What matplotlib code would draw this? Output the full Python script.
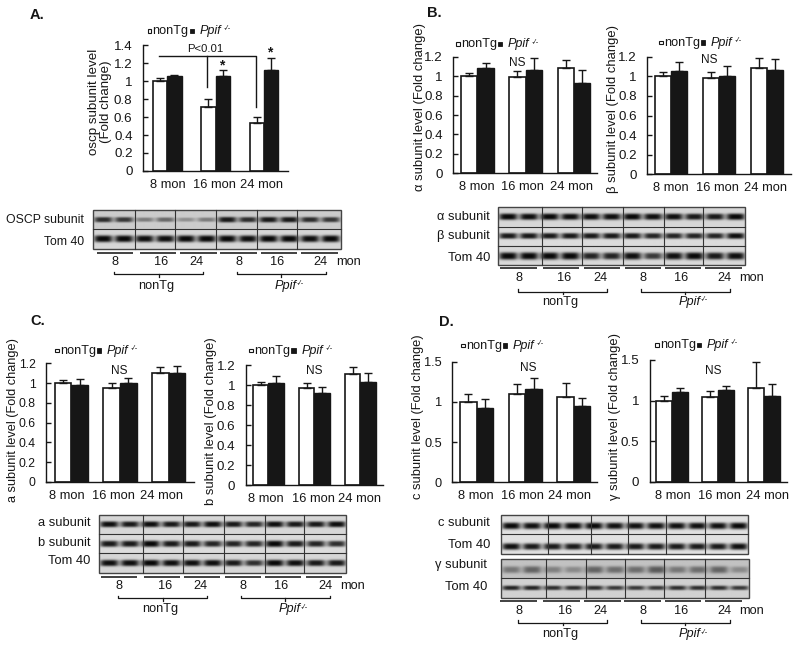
import numpy as np
import matplotlib
matplotlib.use("Agg")
import matplotlib.pyplot as plt
from matplotlib.patches import Rectangle

plt.rcParams['font.family'] = ['Liberation Sans', 'DejaVu Sans']

months = ['8 mon', '16 mon', '24 mon']
ages = ['8', '16', '24', '8', '16', '24']

# bar heights and upper error
oscp_wt = [1.0, 0.71, 0.53]
oscp_ko = [1.05, 1.05, 1.12]
oscp_wt_err = [0.03, 0.09, 0.07]
oscp_ko_err = [0.02, 0.07, 0.14]

alpha_wt = [1.0, 0.99, 1.08]
alpha_ko = [1.085, 1.06, 0.93]
alpha_wt_err = [0.03, 0.06, 0.09]
alpha_ko_err = [0.055, 0.13, 0.13]

beta_wt = [1.0, 0.98, 1.08]
beta_ko = [1.05, 1.0, 1.06]
beta_wt_err = [0.04, 0.06, 0.11]
beta_ko_err = [0.10, 0.11, 0.12]

a_wt = [1.0, 0.95, 1.10]
a_ko = [0.98, 1.0, 1.10]
a_wt_err = [0.03, 0.05, 0.06]
a_ko_err = [0.06, 0.05, 0.07]

b_wt = [1.0, 0.97, 1.11]
b_ko = [1.02, 0.92, 1.03]
b_wt_err = [0.03, 0.05, 0.07]
b_ko_err = [0.07, 0.06, 0.09]

c_wt = [1.0, 1.10, 1.06]
c_ko = [0.92, 1.16, 0.95]
c_wt_err = [0.10, 0.12, 0.17]
c_ko_err = [0.11, 0.14, 0.10]

gamma_wt = [1.0, 1.04, 1.16]
gamma_ko = [1.11, 1.13, 1.06]
gamma_wt_err = [0.06, 0.08, 0.31]
gamma_ko_err = [0.04, 0.05, 0.15]

# band darkness per lane on the blots
oscp_row = [.8, .75, .4, .5, .3, .4, .9, .8, .9, .9, .8, .75]
tom_a_row = [.98, .98, .95, .95, .98, .98, .98, .95, .98, .98, .95, .98]
alpha_row = [.98, .95, .98, .95, .95, .95, .98, .95, .95, .9, .9, .98]
beta_row = [.9, .9, .9, .9, .9, .9, .9, .85, .85, .85, .85, .95]
tom_b_row = [.98, .98, .98, .98, .85, .85, .95, .75, .95, .98, .9, .95]
a_row = [.95, .9, .95, .9, .9, .95, .9, .85, .95, .9, .9, .95]
b_row = [.9, .9, .98, .9, .9, .85, .85, .85, .98, .9, .85, .8]
tom_c_row = [.95, .95, .98, .95, .95, .95, .9, .8, .98, .95, .9, .9]
c_row = [.98, .95, .98, .98, .98, .95, .95, .95, .95, .95, .95, .98]
tom_d1_row = [.95, .9, .9, .9, .9, .9, .9, .9, .9, .9, .9, .95]
gamma_row = [.4, .5, .35, .3, .5, .45, .45, .55, .4, .45, .5, .3]
tom_d2_row = [.85, .85, .8, .8, .8, .75, .75, .75, .8, .8, .8, .75]

W, H = 800, 648
fig = plt.figure(figsize=(W / 100, H / 100), dpi=100)
ink = '#161616'


def px_axes(left, top, right, bottom, **kw):
    return fig.add_axes([left / W, 1 - bottom / H, (right - left) / W, (bottom - top) / H], **kw)


ov = px_axes(0, 0, W, H, zorder=5)
ov.set_xlim(0, W)
ov.set_ylim(H, 0)
ov.axis('off')
ov.patch.set_alpha(0)


def bar_panel(rect, ymax, yticks, ylabels, c0, sp, bw, wt, ko, wt_err, ko_err, tick_x,
              ylab, ylab_xy, lsize=9.4, tsize=9.6):
    left, top, right, bottom = rect
    ax = px_axes(left, top, right, bottom)
    ax.set_xlim((left - c0) / sp, (right - c0) / sp)
    ax.set_ylim(0, ymax)
    x = np.arange(3)
    w = bw / sp
    ax.bar(x - w / 2, wt, w, color='white', edgecolor=ink, linewidth=1.2)
    ax.bar(x + w / 2, ko, w, color=ink, edgecolor=ink, linewidth=1.0)
    ax.errorbar(x - w / 2, wt, yerr=[np.zeros(3), wt_err], fmt='none', ecolor=ink,
                elinewidth=1, capsize=2.6, capthick=1, clip_on=False)
    ax.errorbar(x + w / 2, ko, yerr=[np.zeros(3), ko_err], fmt='none', ecolor=ink,
                elinewidth=1, capsize=2.6, capthick=1, clip_on=False)
    for s in ['top', 'right']:
        ax.spines[s].set_visible(False)
    for s in ['left', 'bottom']:
        ax.spines[s].set_color(ink)
        ax.spines[s].set_linewidth(1)
    ax.set_yticks(yticks)
    ax.set_yticklabels(ylabels, fontsize=tsize, color=ink)
    ax.tick_params(axis='y', direction='in', length=3.5, width=1, pad=7.5, color=ink)
    ax.set_xticks((np.array(tick_x) - c0) / sp)
    ax.set_xticklabels(months, fontsize=9.3, color=ink)
    ax.tick_params(axis='x', length=0, pad=5.5)
    ov.text(ylab_xy[0], ylab_xy[1], ylab, rotation=90, ha='center', va='center',
            fontsize=lsize, color=ink, linespacing=1.1)
    return ax


def legend(x0, y):
    ov.add_patch(Rectangle((x0, y - 2), 3.6, 3.6, facecolor='white', edgecolor=ink, linewidth=0.8))
    ov.text(x0 + 4.8, y, 'nonTg', fontsize=9.1, va='center', ha='left', color=ink)
    ov.add_patch(Rectangle((x0 + 42, y - 2.4), 4.4, 4.4, facecolor=ink, edgecolor=ink, linewidth=0.6))
    ov.text(x0 + 52, y, 'Ppif', fontsize=9.1, style='italic', va='center', ha='left', color=ink)
    ov.text(x0 + 76, y - 2, '-/-', fontsize=5.5, style='italic', va='center', ha='left', color=ink)


def gel_image(nx, ny, rows, y_edges):
    img = np.full((ny, nx), 0.84)
    xx = (np.arange(nx) + 0.5)
    yy = (np.arange(ny) + 0.5)
    for i, r in enumerate(rows):
        darkness, pos, bg, wy = r
        y0, y1 = y_edges[i], y_edges[i + 1]
        in_row = (yy >= y0) & (yy < y1)
        cy = y0 + pos * (y1 - y0)
        img[in_row, :] = bg
        for k, d in enumerate(darkness):
            cx = (k + 0.5) * nx / 12
            bx = np.exp(-np.abs((xx - cx) / (nx / 27)) ** 4)
            h = wy * (0.65 + 0.45 * d)
            by = np.exp(-np.abs((yy - cy) / h) ** 3)
            img[in_row, :] -= (np.outer(by, bx) * bg * d * 0.98)[in_row, :]
    return np.clip(img, 0, 1)


def blot(x0, y0, x1, y1, dividers, seps, rows, names, name_x, nsize=9.3):
    ax = px_axes(x0, y0, x1, y1)
    edges = [0] + [d - y0 for d in dividers] + [y1 - y0]
    img = gel_image(int(x1 - x0), int(round(y1 - y0)), rows, edges)
    ax.imshow(img, cmap='gray', vmin=0, vmax=1, aspect='auto', interpolation='bilinear')
    ax.axis('off')
    ov.add_patch(Rectangle((x0, y0), x1 - x0, y1 - y0, fill=False, edgecolor='#444444', linewidth=1))
    for d in dividers:
        ov.plot([x0, x1], [d, d], color='#333333', lw=0.8)
    for s in seps:
        ov.plot([s, s], [y0, y1], color='#333333', lw=0.8)
    for name, ny in names:
        ov.text(name_x, ny, name, ha='right', va='center', fontsize=nsize, color=ink)


def lane_key(ox, oy, bar_y, seg, label_xs, label_y, mon_x, br_y, names_y):
    # underlines, ages, brackets, group names; numbers here are 3x crop coords
    for a, b in seg:
        ov.plot([ox + a / 3, ox + b / 3], [oy + bar_y / 3] * 2, color='#333333', lw=1.3, solid_capstyle='butt')
    for t, lx in zip(ages, label_xs):
        ov.text(ox + lx / 3, oy + label_y / 3, t, ha='center', va='center', fontsize=9.2, color=ink)
    ov.text(ox + mon_x / 3, oy + label_y / 3, 'mon', ha='center', va='center', fontsize=9.2, color=ink)
    for a, b in [(355, 621), (722, 990)]:
        d = label_xs[0] - 357
        aa, bb = ox + (a + d) / 3, ox + (b + d) / 3
        yy = oy + br_y / 3
        ov.plot([aa, aa, bb, bb], [yy - 2.5, yy, yy, yy - 2.5], color=ink, lw=0.9)
        ov.plot([(aa + bb) / 2] * 2, [yy, yy + 2.5], color=ink, lw=0.9)
    d = label_xs[0] - 357
    ov.text(ox + (480 + d) / 3, oy + names_y / 3, 'nonTg', ha='center', va='center', fontsize=9.2, color=ink)
    ov.text(ox + (868 + d) / 3, oy + names_y / 3, 'Ppif', ha='center', va='center', fontsize=9.2,
            style='italic', color=ink)
    ov.text(ox + (902 + d) / 3, oy + names_y / 3 - 2, '-/-', ha='left', va='center', fontsize=5.5,
            style='italic', color=ink)


# Panel A
t14 = [0, .2, .4, .6, .8, 1, 1.2, 1.4]
l14 = ['0', '0.2', '0.4', '0.6', '0.8', '1', '1.2', '1.4']
t12 = t14[:-1]
l12 = l14[:-1]
t15 = [0, .5, 1, 1.5]
l15 = ['0', '0.5', '1', '1.5']

bar_panel((143, 45, 288, 171), 1.4, t14, l14, 167.3, 48.2, 14.2, oscp_wt, oscp_ko, oscp_wt_err, oscp_ko_err,
          [167.7, 214.5, 262], 'oscp subunit level\n(Fold change)', (100, 102), 9.6)
legend(147.7, 31)
ov.text(205, 49.3, 'P<0.01', ha='center', va='center', fontsize=8.2, color=ink)
ov.plot([159.3, 256, 256], [56, 56, 106.7], color=ink, lw=1)
ov.plot([207.3, 207.3], [56, 86.7], color=ink, lw=1)
ov.text(221.7, 65, '*', ha='center', va='center', fontsize=10, weight='bold', color=ink)
ov.text(270, 52.5, '*', ha='center', va='center', fontsize=10, weight='bold', color=ink)
blot(93, 210, 340.7, 249, [229.3], [135.3, 175, 216, 256.7, 297.3],
     [(oscp_row, .5, .80, 2.7), (tom_a_row, .48, .84, 3.2)],
     [('OSCP subunit', 220), ('Tom 40', 241.7)], 84.3, 8.8)
lane_key(0, 0, 758, [(290, 400), (420, 528), (540, 650), (660, 770), (783, 890), (903, 1013)],
         [345, 482, 590, 717, 830, 962], 785, 1045, 822, 857)

# Panel B
bar_panel((453.3, 56.7, 596.7, 173.3), 1.2, t12, l12, 477.3, 48.3, 16.4, alpha_wt, alpha_ko, alpha_wt_err,
          alpha_ko_err, [476.7, 522.7, 571], 'α subunit level (Fold change)', (420, 107))
legend(456, 44)
ov.text(517.3, 63.3, 'NS', ha='center', va='center', fontsize=8.6, color=ink)
bar_panel((647.3, 56.7, 790.7, 174.3), 1.2, t12, l12, 671, 48, 16, beta_wt, beta_ko, beta_wt_err, beta_ko_err,
          [671, 717, 765], 'β subunit level (Fold change)', (613, 109))
legend(659, 42.7)
ov.text(709, 60, 'NS', ha='center', va='center', fontsize=8.6, color=ink)
blot(497.7, 207.3, 745.3, 265, [226.7, 245.7], [541.7, 582.3, 622.7, 663.7, 702.7],
     [(alpha_row, .5, .84, 3.0), (beta_row, .5, .86, 2.8), (tom_b_row, .55, .85, 3.4)],
     [('α subunit', 216.7), ('β subunit', 235.7), ('Tom 40', 257.7)], 490)
lane_key(400, 0, 805, [(300, 412), (430, 538), (552, 660), (675, 782), (795, 903), (915, 1025)],
         [357, 492, 601, 728, 842, 974], 835, 1055, 875, 905)

# Panel C
bar_panel((46, 363.3, 194.3, 482), 1.2, t12, l12, 71.3, 48.6, 16.7, a_wt, a_ko, a_wt_err, a_ko_err,
          [66.7, 113, 161], 'a subunit level (Fold change)', (13, 420), 9.2, 8.8)
legend(55, 350.7)
ov.text(119, 371.3, 'NS', ha='center', va='center', fontsize=8.6, color=ink)
bar_panel((245.7, 365, 383.3, 485), 1.2, t12, l12, 268.3, 46, 15.6, b_wt, b_ko, b_wt_err, b_ko_err,
          [266, 313, 360], 'b subunit level (Fold change)', (210.7, 421))
legend(249.3, 350.7)
ov.text(314, 371.3, 'NS', ha='center', va='center', fontsize=8.6, color=ink)
blot(98.7, 515, 346, 572.7, [534.3, 553.3], [142.7, 183, 223.7, 265, 304],
     [(a_row, .48, .84, 2.8), (b_row, .5, .86, 3.0), (tom_c_row, .5, .84, 3.0)],
     [('a subunit', 523.3), ('b subunit', 542.7), ('Tom 40', 560.7)], 90)
lane_key(0, 310, 800, [(302, 412), (432, 540), (552, 660), (675, 782), (795, 903), (917, 1027)],
         [357, 494, 602, 729, 843, 975], 827, 1057, 865, 898)

# Panel D
bar_panel((452.3, 361.7, 596.7, 482.3), 1.5, t15, l15, 476.7, 48.6, 16.5, c_wt, c_ko, c_wt_err, c_ko_err,
          [476, 522, 570], 'c subunit level (Fold change)', (418.5, 416.7), 9.3, 9.2)
legend(461, 345.7)
ov.text(528.3, 368, 'NS', ha='center', va='center', fontsize=8.6, color=ink)
bar_panel((649.7, 360, 786.7, 482), 1.5, t15, l15, 672, 46, 15.7, gamma_wt, gamma_ko, gamma_wt_err, gamma_ko_err,
          [672.7, 719, 767], 'γ subunit level (Fold change)', (615, 417))
legend(655, 345)
ov.text(713.7, 371.3, 'NS', ha='center', va='center', fontsize=8.6, color=ink)
blot(501, 515, 748.3, 554.3, [534.3], [548.3, 590.7, 628.3, 665.7, 704.7],
     [(c_row, .6, .88, 3.0), (tom_d1_row, .62, .88, 3.0)],
     [('c subunit', 522.7), ('Tom 40', 545)], 490)
blot(501, 559.3, 749.3, 597.7, [578.3], [545.7, 586, 625, 664.3, 705],
     [(gamma_row, .55, .76, 4.0), (tom_d2_row, .47, .82, 2.2)],
     [('γ subunit', 565), ('Tom 40', 586.7)], 487.3)
lane_key(400, 310, 873, [(300, 410), (430, 540), (552, 662), (673, 782), (795, 903), (915, 1025)],
         [357, 494, 602, 729, 843, 974], 902, 1055, 938, 972)

# Panel letters
for letter, lx, ly in [('A.', 30, 15), ('B.', 426.7, 13), ('C.', 30.7, 321), ('D.', 439, 321.7)]:
    ov.text(lx, ly, letter, fontsize=10.5, weight='bold', ha='left', va='center', color=ink)

fig.savefig('out.png', dpi=100)
